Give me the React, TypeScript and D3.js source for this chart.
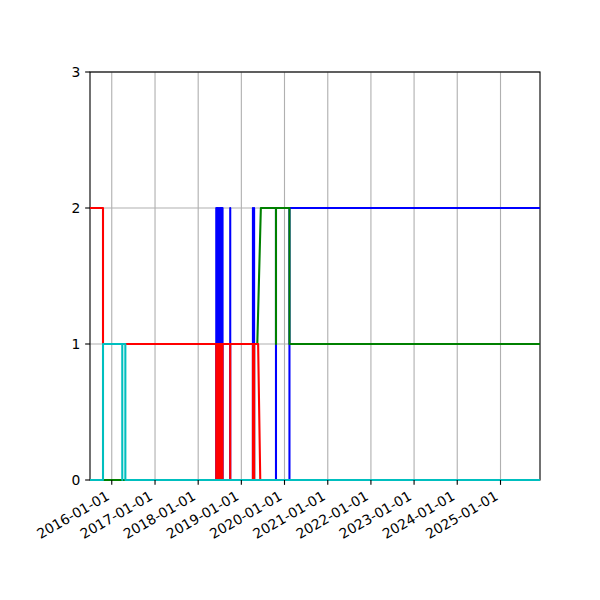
import React from "react";
import * as d3 from "d3";

// ---- data ----
const xDomainDates: [string, string] = ["2015-07-01", "2025-12-01"];
const yTicks: number[] = [0, 1, 2, 3];
const xTickDates: string[] = [
  "2016-01-01", "2017-01-01", "2018-01-01", "2019-01-01", "2020-01-01",
  "2021-01-01", "2022-01-01", "2023-01-01", "2024-01-01", "2025-01-01",
];

const blueSeries: [string, number][] = [
  ["2015-07-01", 0],
  ["2018-06-03", 0], ["2018-06-03", 2], ["2018-06-03", 0],
  ["2018-06-11", 0], ["2018-06-11", 2], ["2018-06-11", 0],
  ["2018-06-18", 0], ["2018-06-18", 2], ["2018-06-18", 0],
  ["2018-06-26", 0], ["2018-06-26", 2], ["2018-06-26", 0],
  ["2018-07-04", 0], ["2018-07-04", 2], ["2018-07-04", 0],
  ["2018-07-11", 0], ["2018-07-11", 2], ["2018-07-11", 0],
  ["2018-07-19", 0], ["2018-07-19", 2], ["2018-07-19", 0],
  ["2018-07-26", 0], ["2018-07-26", 2], ["2018-07-26", 0],
  ["2018-09-29", 0], ["2018-09-29", 2], ["2018-09-29", 0],
  ["2019-04-09", 0], ["2019-04-09", 2], ["2019-04-09", 0],
  ["2019-04-19", 0], ["2019-04-19", 2], ["2019-04-19", 0],
  ["2019-10-21", 0], ["2019-10-21", 2], ["2019-10-21", 0],
  ["2020-02-12", 0], ["2020-02-12", 2],
  ["2025-12-01", 2],
];

const greenSeries: [string, number][] = [
  ["2015-07-01", 0],
  ["2019-04-19", 0], ["2019-04-19", 1],
  ["2019-05-16", 1],
  ["2019-06-15", 2],
  ["2019-10-21", 2], ["2019-10-21", 1], ["2019-10-21", 2],
  ["2020-02-12", 2], ["2020-02-12", 1],
  ["2025-12-01", 1],
];

const redSeries: [string, number][] = [
  ["2015-07-01", 2],
  ["2015-10-19", 2], ["2015-10-19", 1],
  ["2018-06-03", 1], ["2018-06-03", 0], ["2018-06-03", 1],
  ["2018-06-11", 1], ["2018-06-11", 0], ["2018-06-11", 1],
  ["2018-06-18", 1], ["2018-06-18", 0], ["2018-06-18", 1],
  ["2018-06-26", 1], ["2018-06-26", 0], ["2018-06-26", 1],
  ["2018-07-04", 1], ["2018-07-04", 0], ["2018-07-04", 1],
  ["2018-07-11", 1], ["2018-07-11", 0], ["2018-07-11", 1],
  ["2018-07-19", 1], ["2018-07-19", 0], ["2018-07-19", 1],
  ["2018-07-26", 1], ["2018-07-26", 0], ["2018-07-26", 1],
  ["2018-09-29", 1], ["2018-09-29", 0], ["2018-09-29", 1],
  ["2019-04-09", 1], ["2019-04-09", 0], ["2019-04-09", 1],
  ["2019-04-19", 1], ["2019-04-19", 0], ["2019-04-19", 1],
  ["2019-05-23", 1],
  ["2019-06-10", 0],
  ["2025-12-01", 0],
];

const cyanSeries: [string, number][] = [
  ["2015-07-01", 0],
  ["2015-10-19", 0], ["2015-10-19", 1],
  ["2016-03-30", 1], ["2016-03-30", 0], ["2016-03-30", 1],
  ["2016-04-25", 1], ["2016-04-25", 0],
  ["2025-12-01", 0],
];

const seriesList: { name: string; color: string; data: [string, number][] }[] = [
  { name: "blue", color: "#0000ff", data: blueSeries },
  { name: "green", color: "#008000", data: greenSeries },
  { name: "red", color: "#ff0000", data: redSeries },
  { name: "cyan", color: "#00bfbf", data: cyanSeries },
];

// ---- layout ----
const W = 600, H = 600;
const left = 90, right = 540, top = 72, bottom = 480;
const pt = 100 / 72;
const fontSize = 10 * pt;

export default function App() {
  const parse = d3.timeParse("%Y-%m-%d");
  const x = d3
    .scaleTime()
    .domain(xDomainDates.map((d) => parse(d) as Date))
    .range([left, right]);
  const y = d3.scaleLinear().domain([0, 3]).range([bottom, top]);
  const line = d3
    .line<[string, number]>()
    .x((d) => x(parse(d[0]) as Date))
    .y((d) => y(d[1]));

  const tickLen = 3.5 * pt;
  const pad = 3.5 * pt;
  const gridW = 0.8 * pt;
  const font = "'DejaVu Sans', sans-serif";

  return (
    <svg
      width={W}
      height={H}
      style={{ position: "absolute", left: 0, top: 0, background: "#fff" }}
      fontFamily={font}
    >
      <rect x={0} y={0} width={W} height={H} fill="#fff" />
      <defs>
        <clipPath id="plotclip">
          <rect x={left} y={top - 2} width={right - left} height={bottom - top + 4} />
        </clipPath>
      </defs>
      {/* grid */}
      <g stroke="#b0b0b0" strokeWidth={gridW}>
        {xTickDates.map((d) => {
          const xx = x(parse(d) as Date);
          return <line key={d} x1={xx} x2={xx} y1={top} y2={bottom} />;
        })}
        {yTicks.map((t) => (
          <line key={t} x1={left} x2={right} y1={y(t)} y2={y(t)} />
        ))}
      </g>
      {/* spines */}
      <rect
        x={left}
        y={top}
        width={right - left}
        height={bottom - top}
        fill="none"
        stroke="#000"
        strokeWidth={gridW}
      />
      {/* series */}
      <g clipPath="url(#plotclip)" fill="none" strokeWidth={1.5 * pt} strokeLinejoin="round" strokeLinecap="butt">
        {seriesList.map((s) => (
          <path key={s.name} d={line(s.data) || ""} stroke={s.color} />
        ))}
      </g>
      {/* y ticks */}
      <g>
        {yTicks.map((t) => (
          <g key={t}>
            <line x1={left - tickLen} x2={left} y1={y(t)} y2={y(t)} stroke="#000" strokeWidth={gridW} />
            <text
              x={left - tickLen - pad}
              y={y(t)}
              textAnchor="end"
              dominantBaseline="central"
              fontSize={fontSize}
              fill="#000"
            >
              {t}
            </text>
          </g>
        ))}
      </g>
      {/* x ticks */}
      <g>
        {xTickDates.map((d) => {
          const xx = x(parse(d) as Date);
          const ax = xx - 1.45;
          const ay = bottom + tickLen + pad + 9.2;
          return (
            <g key={d}>
              <line x1={xx} x2={xx} y1={bottom} y2={bottom + tickLen} stroke="#000" strokeWidth={gridW} />
              <text
                transform={`translate(${ax},${ay}) rotate(-30)`}
                textAnchor="end"
                fontSize={fontSize}
                fill="#000"
              >
                {d}
              </text>
            </g>
          );
        })}
      </g>
    </svg>
  );
}
